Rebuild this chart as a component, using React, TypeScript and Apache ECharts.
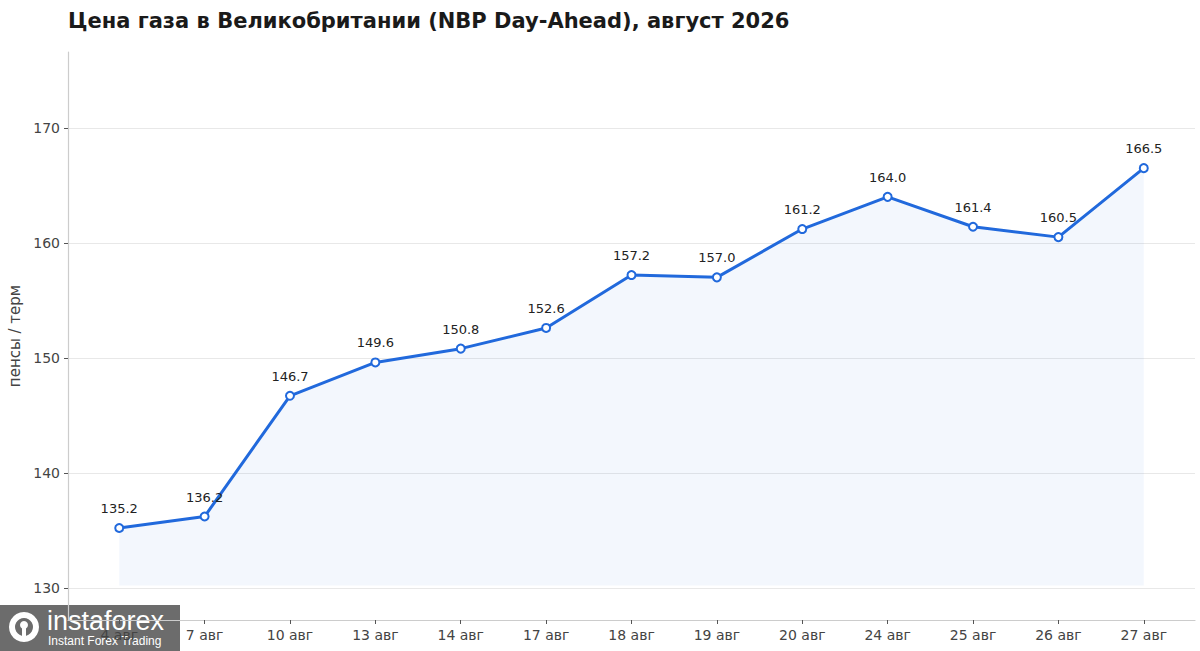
import React, { useEffect, useRef } from "react";
import * as echarts from "echarts";

const categories = ["4 авг", "7 авг", "10 авг", "13 авг", "14 авг", "17 авг", "18 авг", "19 авг", "20 авг", "24 авг", "25 авг", "26 авг", "27 авг"];
const prices = [135.2, 136.2, 146.7, 149.6, 150.8, 152.6, 157.2, 157.0, 161.2, 164.0, 161.4, 160.5, 166.5];
const yTicks = [130, 140, 150, 160, 170];
const titleText = "Цена газа в Великобритании (NBP Day-Ahead), август 2026";
const yAxisName = "пенсы / терм";
const fillBase = 130.2;

const FONT = "DejaVu Sans";

export default function App() {
  const ref = useRef<HTMLDivElement>(null);
  useEffect(() => {
    if (!ref.current) return;
    const chart = echarts.init(ref.current, null, { renderer: "svg" });
    const idx = categories.map((_, i) => i);
    chart.setOption({
      animation: false,
      backgroundColor: "#ffffff",
      textStyle: { fontFamily: FONT },
      title: {
        text: titleText,
        left: 68,
        top: 10,
        padding: 0,
        textStyle: { fontFamily: FONT, fontWeight: "bold", fontSize: 21, color: "#1a1a1a" },
      },
      grid: { left: 68, right: 5, top: 52, bottom: 31, containLabel: false, outerBoundsMode: "none" },
      xAxis: {
        type: "value",
        min: -0.6,
        max: 12.6,
        axisLine: { show: true, onZero: false, lineStyle: { color: "#cccccc", width: 1.2 } },
        axisTick: { show: true, customValues: idx, length: 4, lineStyle: { color: "#555555" } },
        axisLabel: {
          customValues: idx,
          formatter: (v: number) => categories[Math.round(v)] ?? "",
          color: "#444444",
          fontSize: 14,
          fontFamily: FONT,
          margin: 8,
        },
        splitLine: { show: false },
      },
      yAxis: {
        type: "value",
        min: 127.2,
        max: 176.6,
        name: yAxisName,
        nameLocation: "middle",
        nameGap: 43,
        nameTextStyle: { fontSize: 15, color: "#444444", fontFamily: FONT },
        axisLine: { show: true, onZero: false, lineStyle: { color: "#cccccc", width: 1.2 } },
        axisTick: { show: true, customValues: yTicks, length: 4, lineStyle: { color: "#555555" } },
        axisLabel: {
          customValues: yTicks,
          color: "#444444",
          fontSize: 14,
          fontFamily: FONT,
          margin: 8,
        },
        splitLine: { show: true, lineStyle: { color: "#e8e8e8", width: 1 } },
      },
      series: [
        {
          type: "line",
          data: prices.map((p, i) => [i, p]),
          lineStyle: { color: "#2169dc", width: 3 },
          itemStyle: { color: "#ffffff", borderColor: "#2169dc", borderWidth: 2 },
          symbol: "circle",
          symbolSize: 8,
          showAllSymbol: true,
          areaStyle: { origin: fillBase, color: "rgba(33,105,220,0.08)" },
          label: {
            show: true,
            position: "top",
            distance: 8,
            formatter: (p: any) => p.value[1].toFixed(1),
            color: "#222222",
            fontSize: 13,
            fontFamily: FONT,
          },
          z: 3,
        },
      ],
      graphic: [
        {
          type: "group",
          left: 0,
          top: 605,
          z: 100,
          children: [
            { type: "rect", shape: { x: 0, y: 0, width: 180, height: 46 }, style: { fill: "rgba(95,95,95,0.92)" } },
            { type: "ring", shape: { cx: 24, cy: 22, r: 15, r0: 9 }, style: { fill: "#ffffff" } },
            { type: "circle", shape: { cx: 24, cy: 20, r: 4 }, style: { fill: "#ffffff" } },
            { type: "rect", shape: { x: 22, y: 22, width: 4, height: 12 }, style: { fill: "#ffffff" } },
            { type: "text", x: 47, y: 2, style: { text: "instaforex", fill: "#ffffff", font: "27px 'Liberation Sans'" } },
            { type: "text", x: 48, y: 30, style: { text: "Instant Forex Trading", fill: "#ffffff", font: "12px 'Liberation Sans'" } },
          ],
        },
      ],
    });
    return () => chart.dispose();
  }, []);
  return <div ref={ref} style={{ width: 1200, height: 651, position: "absolute", left: 0, top: 0 }} />;
}
